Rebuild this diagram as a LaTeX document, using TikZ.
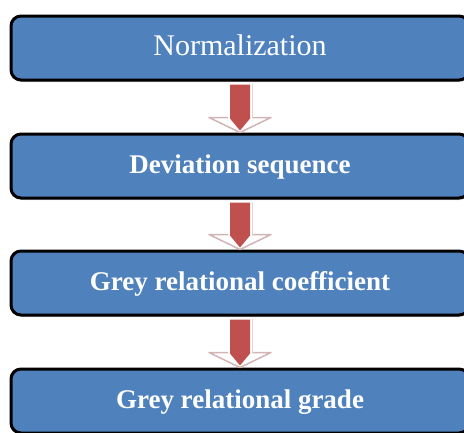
\documentclass[tikz,border=0pt]{standalone}
\usepackage{fontspec}
\setmainfont{Liberation Serif}
\usepackage{tikz}
\usetikzlibrary{positioning,shadows,calc}
\definecolor{boxblue}{RGB}{79,129,189}
\definecolor{arrowred}{RGB}{192,80,77}
\definecolor{arrowrim}{RGB}{210,180,180}

\begin{document}
\begin{tikzpicture}[x=1pt,y=1pt,
  stepbox/.style={draw=black,line width=3pt,rounded corners=10pt,fill=boxblue,
    minimum width=458pt,minimum height=64pt,text=white,text height=21pt,text depth=6.5pt,
    drop shadow={shadow xshift=1pt,shadow yshift=-2pt,opacity=0.35}},
  boldtext/.style={font=\fontsize{27}{32}\selectfont\bfseries},
  arrowwhite/.style={draw=arrowrim,line width=1.5pt,line join=round}]
\useasboundingbox (0,0) rectangle (464,-432);
\clip (0,0) rectangle (464,-432);
\node[stepbox,font=\fontsize{30}{36}\selectfont] (norm) at (240,-48) {Normalization};
\node[stepbox,boldtext] (dev) at (240,-166) {Deviation sequence};
\node[stepbox,boldtext] (coef) at (240,-283) {Grey relational coefficient};
\node[stepbox,boldtext] (grade) at (240,-401) {Grey relational grade};
%
\foreach \a/\b in {norm/dev,dev/coef,coef/grade}{
  \draw[arrowwhite] ($(\b.north)+(-12,15)$) -- ($(\b.north)+(-31,15)$)
    -- (\b.north) -- ($(\b.north)+(31,15)$) -- ($(\b.north)+(12,15)$);
  \draw[gray!30,line width=1pt] ($(\a.south)+(12,-2)$) -- ($(\b.north)+(12,15)$);
  \fill[arrowred] ($(\a.south)+(-10,-3)$) -- ($(\b.north)+(-10,14)$) -- ($(\b.north)+(0,2)$)
    -- ($(\b.north)+(10,14)$) -- ($(\a.south)+(10,-3)$) -- cycle;
}
\end{tikzpicture}
\end{document}
